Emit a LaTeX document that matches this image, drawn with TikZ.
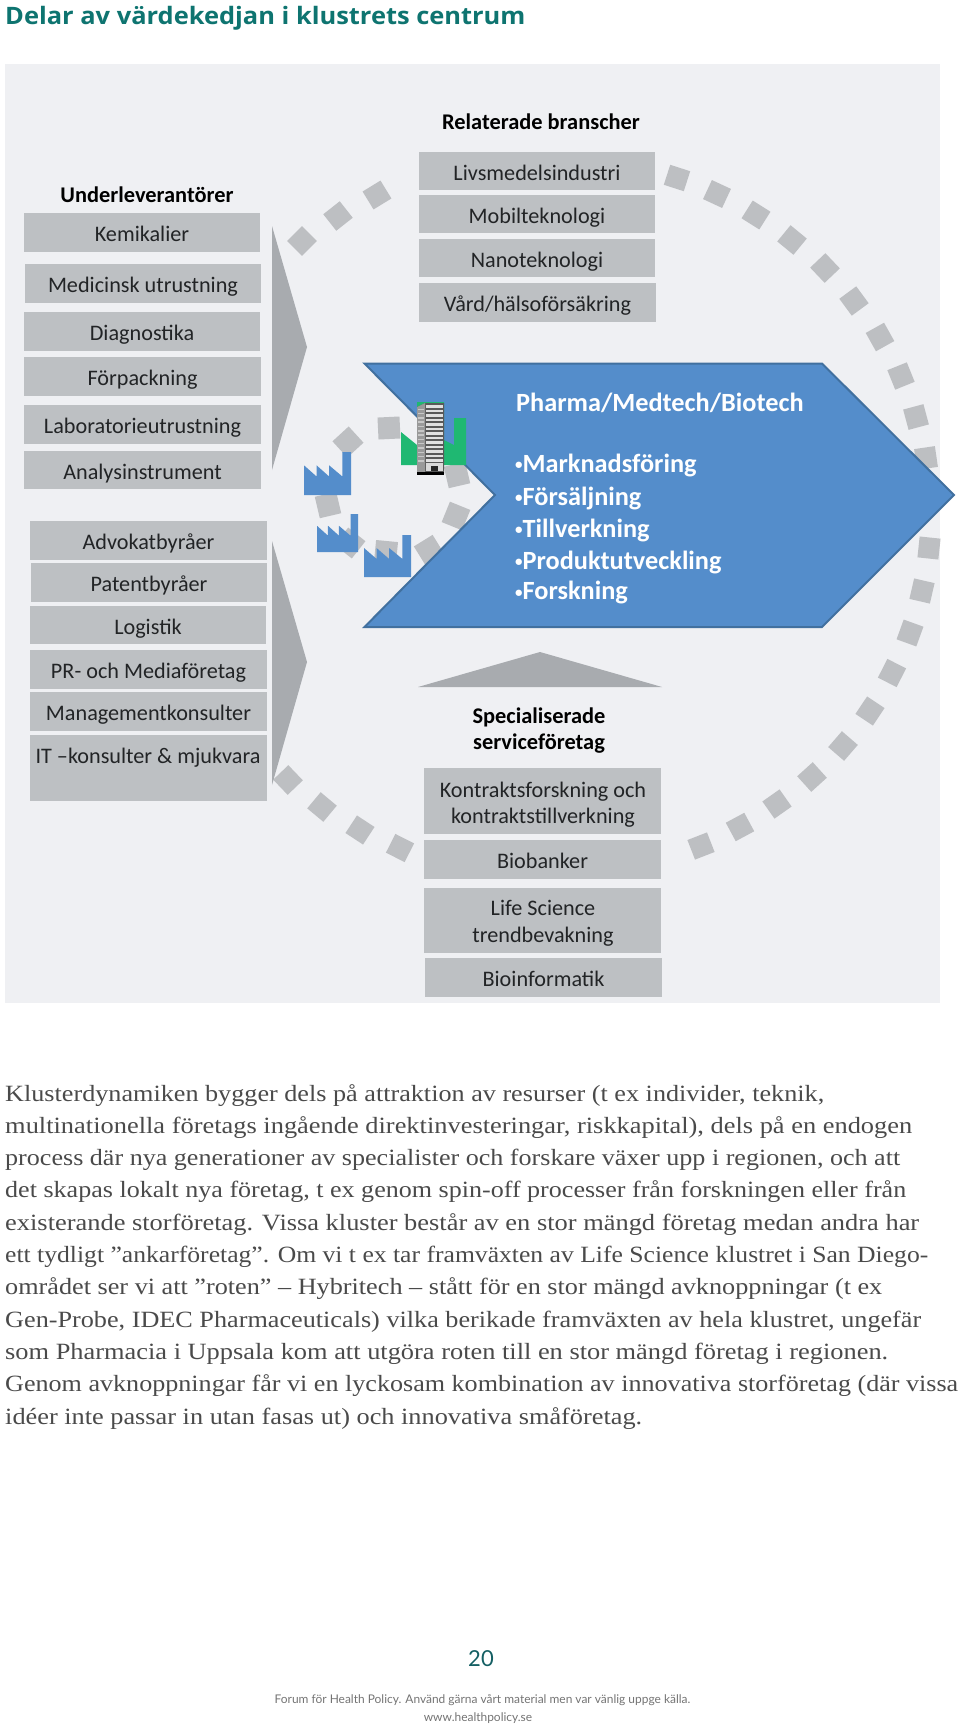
\documentclass[tikz,border=0pt]{standalone}
\usepackage{fontspec}
\usepackage{graphicx}
\setmainfont{Liberation Serif}
\newfontfamily\carl{Carlito}
\newfontfamily\titlefont[FakeStretch=1.06]{Open Sans}
\newfontfamily\bodyfont[FakeStretch=1.12]{Liberation Serif}
\newfontfamily\footfont{Lato}
\definecolor{panelbg}{HTML}{EFF0F3}
\definecolor{boxgray}{HTML}{BDC0C3}
\definecolor{arrowgray}{HTML}{A8ABAF}
\definecolor{dotgray}{HTML}{BDBFC2}
\definecolor{bluefill}{HTML}{548DCB}
\definecolor{blueline}{HTML}{41709F}
\definecolor{teal}{HTML}{0E7470}
\definecolor{tealdark}{HTML}{145F63}
\definecolor{greenf}{HTML}{1FB872}
\definecolor{bodygray}{HTML}{4A4A4A}
\definecolor{inktext}{HTML}{222426}
\tikzset{
  graybox/.style={fill=boxgray,inner sep=0pt},
  boxlabel/.style={inner sep=0pt,anchor=base,font=\carl\fontsize{22.2}{26.5}\selectfont,text=inktext},
  headlabel/.style={inner sep=0pt,anchor=base,font=\carl\bfseries\fontsize{22.4}{26.5}\selectfont,text=black},
  bluelabel/.style={inner sep=0pt,anchor=west,text=white,font=\carl\bfseries\fontsize{26.3}{30}\selectfont},
  bodyline/.style={inner sep=0pt,anchor=base west,text=bodygray,font=\bodyfont\fontsize{23.3}{26}\selectfont},
  bigdot/.style={fill=dotgray,minimum size=21pt,inner sep=0pt},
  smalldot/.style={fill=dotgray,minimum size=22pt,inner sep=0pt},
  arrowshape/.style={fill=arrowgray},
  footline/.style={inner sep=0pt,text=black!55,font=\footfont\fontsize{11.95}{15}\selectfont},
}
% box from corners, with a one-line label on a baseline 9.3 below its centre
\newcommand\gbox[6]{\node[graybox,minimum width={(#4)-(#2)},minimum height={(#5)-(#3)}] (#1) at ({((#2)+(#4))/2},{((#3)+(#5))/2}) {};
  \node[boxlabel] (#1t) at ({((#2)+(#4))/2},{((#3)+(#5))/2+9.3}) {#6};}
\newcommand\factory[5]{\begin{scope}[shift={(#1,#2)},xscale=#3,yscale=#4]
\fill[#5] (0,.31)--(.268,.57)--(.268,.31)--(.535,.57)--(.535,.31)--(.817,.57)--(.817,0)--(1,0)--(1,1)--(0,1)--cycle;
\end{scope}}
\newcommand\bodyl[4]{\node[bodyline] (#1) at (5,#2) {\resizebox{#3pt}{\height}{#4}};}
\newcommand\smallbul{{\fontsize{15}{15}\selectfont\raisebox{2.5pt}{•}}}
\begin{document}
\begin{tikzpicture}[x=1pt,y=-1pt]
\useasboundingbox (0,0) rectangle (960,1725);
\node[inner sep=0pt,anchor=base west,text=teal,font=\titlefont\bfseries\fontsize{24}{28}\selectfont] (title) at (5,24) {Delar av värdekedjan i klustrets centrum};
\fill[panelbg] (5,64) rectangle (940,1003);
% big ring
\foreach \i/\px/\py in {1/302/241,2/338/216,3/377/195,4/677/178,5/717/194,6/756/215,7/792/240,8/825/268,9/854/301,10/880/337,11/901/376,12/916/417,13/926/458,14/929/548,15/922/591,16/910/633,17/892/673,18/870/711,19/843/746,20/812/777,21/777/804,22/740/827,23/701/846,24/400/848,25/360/830,26/322/807,27/288/780}{
  \pgfmathsetmacro\ang{atan2(\py-510,\px-570)}
  \node[bigdot,rotate=-\ang] (d\i) at (\px,\py) {};
}
% small ring
\foreach \i/\px/\py in {1/389/428,2/348/442,3/328/505,4/350/543,5/386/552,6/429/550,7/456/516,8/457/475}{
  \pgfmathsetmacro\ang{atan2(\py-490,\px-392)}
  \node[smalldot,rotate=-\ang] (s\i) at (\px,\py) {};
}
% central chevron
\draw[fill=bluefill,draw=blueline,line width=2pt,line join=miter] (364.5,363.5)--(822,363.5)--(954,495)--(822,627)--(364.5,627)--(495,495)--cycle;
\node[bluelabel] (pharma) at (516,403) {Pharma/Medtech/Biotech};
\node[bluelabel] (b1) at (515,465) {\smallbul Marknadsföring};
\node[bluelabel] (b2) at (515,498) {\smallbul Försäljning};
\node[bluelabel] (b3) at (515,530) {\smallbul Tillverkning};
\node[bluelabel] (b4) at (515,562) {\smallbul Produktutveckling};
\node[bluelabel] (b5) at (515,592.5) {\smallbul Forskning};
% arrows
\fill[arrowshape] (272,226)--(307,347)--(272,470)--cycle;
\fill[arrowshape] (272,541)--(307,662)--(272,785)--cycle;
\fill[arrowshape] (418,687)--(540,652)--(662,687)--cycle;
% left column 1
\node[headlabel] (under) at (147,202) {Underleverantörer};
\gbox{k1}{24}{213}{260}{252}{Kemikalier}
\gbox{k2}{25}{264}{261}{303}{Medicinsk utrustning}
\gbox{k3}{24}{312}{260}{351}{Diagnostika}
\gbox{k4}{24}{357}{261}{396}{Förpackning}
\gbox{k5}{24}{405}{261}{444}{Laboratorieutrustning}
\gbox{k6}{24}{451}{261}{489}{Analysinstrument}
% left column 2
\gbox{a1}{30}{521}{267}{560}{Advokatbyråer}
\gbox{a2}{31}{563}{267}{602}{Patentbyråer}
\gbox{a3}{30}{606}{266}{644}{Logistik}
\gbox{a4}{30}{650}{267}{689}{PR- och Mediaföretag}
\gbox{a5}{30}{692}{267}{731}{Managementkonsulter}
\gbox{a6}{30}{735}{267}{801}{}
\node[boxlabel] (a6l) at (148,763) {IT –konsulter \& mjukvara};
% top column
\node[headlabel] (rel) at (541,129) {Relaterade branscher};
\gbox{r1}{419}{152}{655}{190}{Livsmedelsindustri}
\gbox{r2}{419}{195}{655}{233}{Mobilteknologi}
\gbox{r3}{419}{239}{655}{277}{Nanoteknologi}
\gbox{r4}{419}{283}{656}{322}{Vård/hälsoförsäkring}
% bottom column
\node[headlabel] (spec1) at (539,723) {Specialiserade};
\node[headlabel] (spec2) at (539,749) {serviceföretag};
\gbox{c1}{424}{768}{661}{834}{}
\node[boxlabel] (c1a) at (543,797) {Kontraktsforskning och};
\node[boxlabel] (c1b) at (543,823) {kontraktstillverkning};
\gbox{c2}{424}{840}{661}{879}{Biobanker}
\gbox{c3}{424}{888}{661}{953}{}
\node[boxlabel] (c3a) at (543,915) {Life Science};
\node[boxlabel] (c3b) at (543,942) {trendbevakning};
\gbox{c4}{425}{958}{662}{997}{Bioinformatik}
% factories
\factory{304}{452}{47}{43}{bluefill}
\factory{317}{514}{41}{38}{bluefill}
\factory{364}{535}{47}{42}{bluefill}
% building with green factory
\fill[greenf] (401,432)--(417,445)--(417,402)--(444,402)--(444,440)--(454,445)--(454,418)--(466,418)--(466,465)--(401,465)--cycle;
\fill[black!65] (417,407)--(425,403)--(444,403)--(444,474)--(417,474)--cycle;
\fill[black!40] (417,407)--(425,403)--(425,472)--(417,472)--cycle;
\foreach \k in {0,...,12}{
  \fill[black!12] (426,{405+\k*4.5}) rectangle (443,{407.6+\k*4.5});
  \fill[black!22] (418,{408.5+\k*4.3}) rectangle (424,{410+\k*4.3});
}
\fill[black!15] (426,463) rectangle (443,471);
\fill[black!85] (431,466) rectangle (438,471);
\fill[black] (417,471.5) rectangle (444,474.5);
% body text: baseline, fitted width
\bodyl{l1}{1101}{819}{Klusterdynamiken bygger dels på attraktion av resurser (t ex individer, teknik,}
\bodyl{l2}{1133.3}{907}{multinationella företags ingående direktinvesteringar, riskkapital), dels på en endogen}
\bodyl{l3}{1165.6}{895}{process där nya generationer av specialister och forskare växer upp i regionen, och att}
\bodyl{l4}{1197.9}{901}{det skapas lokalt nya företag, t ex genom spin-off processer från forskningen eller från}
\bodyl{l5}{1230.2}{914}{existerande storföretag. Vissa kluster består av en stor mängd företag medan andra har}
\bodyl{l6}{1262.5}{923}{ett tydligt ”ankarföretag”. Om vi t ex tar framväxten av Life Science klustret i San Diego-}
\bodyl{l7}{1294.8}{877}{området ser vi att ”roten” – Hybritech – stått för en stor mängd avknoppningar (t ex}
\bodyl{l8}{1327.1}{916}{Gen-Probe, IDEC Pharmaceuticals) vilka berikade framväxten av hela klustret, ungefär}
\bodyl{l9}{1359.4}{883}{som Pharmacia i Uppsala kom att utgöra roten till en stor mängd företag i regionen.}
\bodyl{l10}{1391.7}{953}{Genom avknoppningar får vi en lyckosam kombination av innovativa storföretag (där vissa}
\bodyl{l11}{1424}{637}{idéer inte passar in utan fasas ut) och innovativa småföretag.}
% footer
\node[inner sep=0pt,text=tealdark,font=\footfont\fontsize{22}{26}\selectfont] (page) at (481,1659) {20};
\node[footline] (f1) at (482.5,1700) {Forum för Health Policy. Använd gärna vårt material men var vänlig uppge källa.};
\node[footline] (f2) at (478,1718) {www.healthpolicy.se};
\end{tikzpicture}
\end{document}
